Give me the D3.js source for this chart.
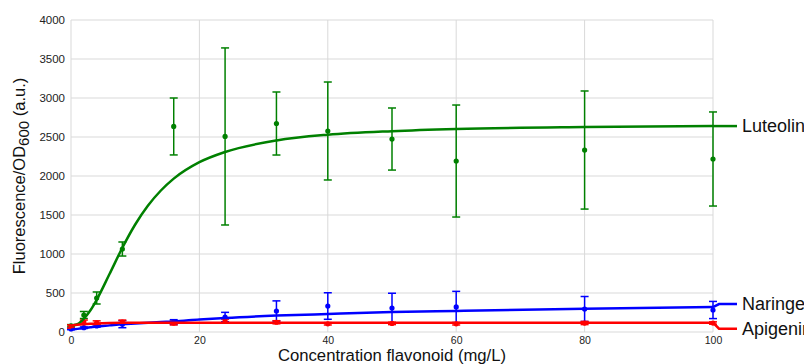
<!DOCTYPE html>
<html>
<head>
<meta charset="utf-8">
<script src="https://cdn.jsdelivr.net/npm/d3@7"></script>
<style>
  body { margin: 0; background: #fff; }
  svg { display: block; font-family: "Liberation Sans", Arial, sans-serif; }
</style>
</head>
<body>
<svg id="chart" width="804" height="364"></svg>
<script>
// concentrations measured (mg/L)
const concentrations = [0, 2, 4, 8, 16, 24, 32, 40, 50, 60, 80, 100];

// measured means and error (a.u.)
const luteolinMean = [80, 218, 436, 1064, 2635, 2507, 2673, 2577, 2474, 2192, 2333, 2218];
const luteolinErr = [15, 45, 77, 90, 365, 1135, 404, 628, 398, 718, 757, 603];
const naringeninMean = [40, 55, 77, 100, 128, 192, 269, 333, 307, 321, 295, 282];
const naringeninErr = [10, 10, 15, 45, 30, 60, 130, 170, 190, 200, 160, 110];
const apigeninMean = [70, 128, 118, 128, 115, 140, 125, 105, 110, 105, 115, 115];
const apigeninErr = [20, 25, 25, 25, 25, 25, 20, 15, 15, 15, 20, 15];

// fitted curves
const fitConc = [0, 1, 2, 3, 4, 6, 8, 10, 12, 14, 16, 20, 24, 32, 40, 50, 60, 80, 100];
const luteolinFit = [80, 100, 170, 275, 413, 743, 1080, 1378, 1621, 1814, 1966, 2177, 2308, 2456, 2529, 2575, 2603, 2628, 2640];
const naringeninFit = [30, 40, 50, 60, 70, 85, 100, 110, 120, 128, 135, 160, 180, 210, 231, 255, 270, 298, 320];
const apigeninFit = [80, 92, 100, 106, 110, 115, 118, 119, 120, 120, 120, 120, 120, 120, 120, 120, 120, 120, 120];

const xTicks = [0, 20, 40, 60, 80, 100];
const yTicks = [0, 500, 1000, 1500, 2000, 2500, 3000, 3500, 4000];

const series = [
  { name: 'Luteolin', color: '#008000', mean: luteolinMean, err: luteolinErr, fit: luteolinFit, labelShift: 0 },
  { name: 'Naringenin', color: '#0000ff', mean: naringeninMean, err: naringeninErr, fit: naringeninFit, labelShift: -3 },
  { name: 'Apigenin', color: '#ff0000', mean: apigeninMean, err: apigeninErr, fit: apigeninFit, labelShift: 6 }
];

const margin = { top: 20, right: 91, bottom: 32, left: 71 };
const width = 804 - margin.left - margin.right;
const height = 364 - margin.top - margin.bottom;

const svg = d3.select('#chart');
const g = svg.append('g').attr('transform', `translate(${margin.left},${margin.top})`);

const x = d3.scaleLinear().domain([0, 100]).range([0, width]);
const y = d3.scaleLinear().domain([0, 4000]).range([height, 0]);

// grid
g.append('g').selectAll('line').data(yTicks).join('line')
  .attr('x1', 0).attr('x2', width)
  .attr('y1', d => y(d)).attr('y2', d => y(d))
  .attr('stroke', '#d9d9d9').attr('stroke-width', 1);
g.append('g').selectAll('line').data(xTicks).join('line')
  .attr('x1', d => x(d)).attr('x2', d => x(d))
  .attr('y1', 0).attr('y2', height)
  .attr('stroke', '#d9d9d9').attr('stroke-width', 1);

// axes (labels only, grid draws the lines)
const yAxis = g.append('g')
  .call(d3.axisLeft(y).tickValues(yTicks).tickFormat(d3.format('d')).tickSize(0).tickPadding(6));
const xAxis = g.append('g')
  .attr('transform', `translate(0,${height})`)
  .call(d3.axisBottom(x).tickValues(xTicks).tickFormat(d3.format('d')).tickSize(0).tickPadding(5));
[xAxis, yAxis].forEach(a => {
  a.select('.domain').remove();
  a.selectAll('text').attr('font-family', '"Liberation Sans", Arial, sans-serif').attr('fill', '#222');
});
yAxis.selectAll('text').attr('font-size', 11.5);
xAxis.selectAll('text').attr('font-size', 10.5);

const line = d3.line()
  .x((d, i) => x(fitConc[i]))
  .y(d => y(d))
  .curve(d3.curveMonotoneX);

series.forEach(s => {
  // error bars
  const eb = g.append('g').attr('stroke', s.color).attr('stroke-width', 1.5);
  concentrations.forEach((c, i) => {
    const cx = x(c);
    const top = y(s.mean[i] + s.err[i]);
    const bot = y(Math.max(0, s.mean[i] - s.err[i]));
    eb.append('line').attr('x1', cx).attr('x2', cx).attr('y1', top).attr('y2', bot);
    eb.append('line').attr('x1', cx - 4).attr('x2', cx + 4).attr('y1', top).attr('y2', top);
    eb.append('line').attr('x1', cx - 4).attr('x2', cx + 4).attr('y1', bot).attr('y2', bot);
  });
  g.append('g').selectAll('circle').data(s.mean).join('circle')
    .attr('cx', (d, i) => x(concentrations[i]))
    .attr('cy', d => y(d))
    .attr('r', 2.6)
    .attr('fill', s.color);
});

series.forEach(s => {
  g.append('path')
    .datum(s.fit)
    .attr('fill', 'none')
    .attr('stroke', s.color)
    .attr('stroke-width', 2.5)
    .attr('d', line);

  // leader line and label
  const endY = y(s.fit[s.fit.length - 1]);
  const labY = endY + s.labelShift;
  g.append('polyline')
    .attr('points', `${width},${endY} ${width + 6},${labY} ${width + 24},${labY}`)
    .attr('fill', 'none')
    .attr('stroke', s.color)
    .attr('stroke-width', 2.5);
  g.append('text')
    .attr('x', width + 29)
    .attr('y', labY)
    .attr('dy', '0.35em')
    .attr('font-size', 18)
    .attr('fill', '#111')
    .text(s.name);
});

// axis titles
svg.append('text')
  .attr('x', margin.left + width / 2)
  .attr('y', 361)
  .attr('text-anchor', 'middle')
  .attr('font-size', 16.7)
  .attr('fill', '#111')
  .text('Concentration flavonoid (mg/L)');

const yt = svg.append('text')
  .attr('transform', `translate(25,${margin.top + height / 2}) rotate(-90)`)
  .attr('text-anchor', 'middle')
  .attr('font-size', 16.5)
  .attr('fill', '#111');
yt.append('tspan').text('Fluorescence/OD');
yt.append('tspan').attr('dy', 4).attr('font-size', 15).text('600');
yt.append('tspan').attr('dy', -4).text(' (a.u.)');
</script>
</body>
</html>
